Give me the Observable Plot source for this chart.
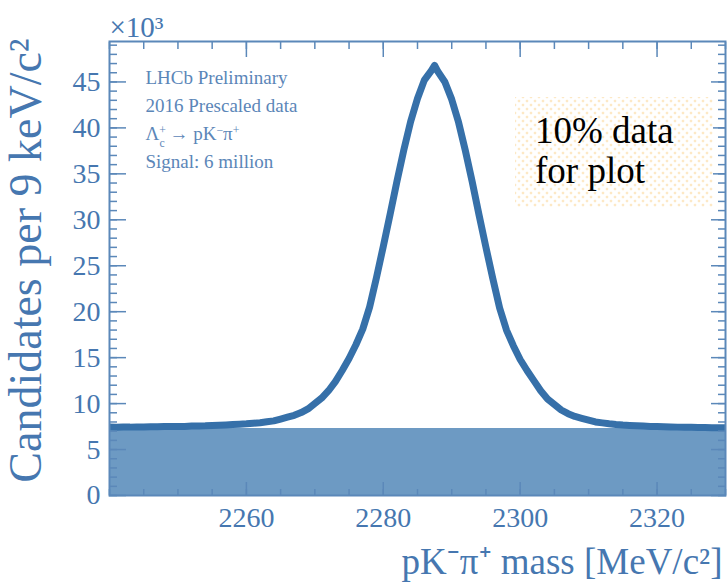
<!DOCTYPE html>
<html>
<head>
<meta charset="utf-8">
<script src="https://cdn.jsdelivr.net/npm/d3@7"></script>
<script src="https://cdn.jsdelivr.net/npm/@observablehq/plot@0.6"></script>
<style>
  html, body { margin: 0; padding: 0; background: #fff; }
  #wrap { position: relative; width: 727px; height: 585px; overflow: hidden; }
  #note {
    position: absolute; left: 515px; top: 97px; width: 198px; height: 110px;
    box-sizing: border-box; padding: 14px 0 0 20px;
    font-family: 'Liberation Serif', 'Times New Roman', serif; font-size: 37px; line-height: 40px; color: #000;
    background-color: #fff;
    background-image:
      radial-gradient(circle, rgba(251, 214, 150, 0.55) 1.1px, transparent 1.7px),
      radial-gradient(circle, rgba(251, 214, 150, 0.55) 1.1px, transparent 1.7px);
    background-size: 8px 8px, 8px 8px;
    background-position: 0 0, 4px 4px;
  }
</style>
</head>
<body>
<div id="wrap">
  <div id="chart"></div>
  <div id="note"></div>
</div>
<script>
// ---- data (counts in thousands per 9 keV/c^2 bin, read every 1 MeV) ----
const mass = [
  2240, 2241, 2242, 2243, 2244, 2245, 2246, 2247, 2248, 2249,
  2250, 2251, 2252, 2253, 2254, 2255, 2256, 2257, 2258, 2259,
  2260, 2261, 2262, 2263, 2264, 2265, 2266, 2267, 2268, 2269,
  2270, 2271, 2272, 2273, 2274, 2275, 2276, 2277, 2278, 2279,
  2280, 2281, 2282, 2283, 2284, 2285, 2286, 2287, 2287.5, 2288, 2289,
  2290, 2291, 2292, 2293, 2294, 2295, 2296, 2297, 2298, 2299,
  2300, 2301, 2302, 2303, 2304, 2305, 2306, 2307, 2308, 2309,
  2310, 2311, 2312, 2313, 2314, 2315, 2316, 2317, 2318, 2319,
  2320, 2321, 2322, 2323, 2324, 2325, 2326, 2327, 2328, 2329,
  2330
];
const counts = [
  7.45, 7.42, 7.45, 7.44, 7.46, 7.45, 7.48, 7.47, 7.50, 7.50,
  7.52, 7.52, 7.55, 7.57, 7.58, 7.62, 7.65, 7.68, 7.72, 7.76,
  7.80, 7.86, 7.92, 8.02, 8.12, 8.32, 8.52, 8.72, 9.02, 9.42,
  10.0, 10.6, 11.4, 12.4, 13.6, 14.9, 16.4, 18.1, 20.5, 23.7,
  27.1, 30.6, 34.2, 37.6, 40.7, 43.2, 45.2, 46.2, 46.8, 46.1, 45.0,
  43.1, 40.6, 37.5, 34.1, 30.5, 27.0, 23.6, 20.4, 18.0, 16.3,
  14.8, 13.6, 12.5, 11.4, 10.5, 9.9, 9.3, 8.9, 8.6, 8.4,
  8.2, 8.0, 7.9, 7.8, 7.72, 7.66, 7.62, 7.58, 7.55, 7.52,
  7.50, 7.48, 7.46, 7.44, 7.43, 7.42, 7.40, 7.40, 7.38, 7.38,
  7.37
];
// flat background component
const bgMass = [2240, 2330];
const bgCounts = [7.3, 7.3];

// ticks
const xMajor = [2260, 2280, 2300, 2320];
const xMinor = [2240, 2245, 2250, 2255, 2260, 2265, 2270, 2275, 2280, 2285, 2290, 2295, 2300, 2305, 2310, 2315, 2320, 2325, 2330];
const yMajor = [0, 5, 10, 15, 20, 25, 30, 35, 40, 45];
const yMinor = [0, 1, 2, 3, 4, 5, 6, 7, 8, 9, 10, 11, 12, 13, 14, 15, 16, 17, 18, 19, 20, 21, 22, 23, 24, 25, 26, 27, 28, 29, 30, 31, 32, 33, 34, 35, 36, 37, 38, 39, 40, 41, 42, 43, 44, 45, 46, 47, 48, 49];

// texts
const infoLines = ["LHCb Preliminary", "2016 Prescaled data", "Λc+ → pK−π+", "Signal: 6 million"];
const yLabel = "Candidates per 9 keV/c²";
const xLabel = "pK⁻π⁺ mass [MeV/c²]";
const scaleLabel = "×10³";
const noteLines = ["10% data", "for plot"];

// ---- build ----
const data = mass.map((m, i) => ({m, c: counts[i]}));
const bg = bgMass.map((m, i) => ({m, c: bgCounts[i]}));

const axisColor = "#5b88b9";
const textColor = "#4677b0";
const font = "'Liberation Serif', 'Times New Roman', serif";

const plot = Plot.plot({
  width: 727,
  height: 585,
  marginLeft: 109,
  marginTop: 41,
  marginRight: 2,
  marginBottom: 90,
  style: {fontFamily: font, background: "#fff"},
  x: {domain: [2240, 2330]},
  y: {domain: [0, 49.4]},
  marks: [
    Plot.areaY(bg, {x: "m", y: "c", fill: "#6d9ac3"}),
    Plot.lineY(data, {x: "m", y: "c", stroke: "#3670a9", strokeWidth: 7, strokeLinejoin: "round", strokeLinecap: "butt"}),
    Plot.frame({stroke: axisColor, strokeWidth: 2}),
    // inward ticks
    Plot.axisX(xMinor, {anchor: "bottom", tickSize: -6, fill: "none", stroke: axisColor, strokeWidth: 1.5}),
    Plot.axisX(xMajor, {anchor: "bottom", tickSize: -13, fill: "none", stroke: axisColor, strokeWidth: 1.5}),
    Plot.axisX(xMinor, {anchor: "top", tickSize: -7, fill: "none", stroke: axisColor, strokeWidth: 1.5}),
    Plot.axisX(xMajor, {anchor: "top", tickSize: -15, fill: "none", stroke: axisColor, strokeWidth: 1.5}),
    Plot.axisY(yMinor, {anchor: "left", tickSize: -8, fill: "none", stroke: axisColor, strokeWidth: 1.5}),
    Plot.axisY(yMajor, {anchor: "left", tickSize: -17, fill: "none", stroke: axisColor, strokeWidth: 1.5}),
    Plot.axisY(yMinor, {anchor: "right", tickSize: -8, fill: "none", stroke: axisColor, strokeWidth: 1.5}),
    Plot.axisY(yMajor, {anchor: "right", tickSize: -15, fill: "none", stroke: axisColor, strokeWidth: 1.5}),
    // tick labels
    Plot.axisX(xMajor, {anchor: "bottom", tickSize: 0, tickPadding: 12, tickFormat: (d) => String(d), fill: textColor, fontSize: 28, label: null}),
    Plot.axisY(yMajor, {anchor: "left", tickSize: 0, tickPadding: 9, tickFormat: (d) => String(d), fill: textColor, fontSize: 28, label: null}),
    // labels
    Plot.text([scaleLabel], {frameAnchor: "top-left", textAnchor: "start", lineAnchor: "bottom", dx: 0, dy: -5, fontSize: 29, fill: textColor}),
    Plot.text([infoLines.join("\n")], {frameAnchor: "top-left", textAnchor: "start", lineAnchor: "top", dx: 36, dy: 23, fontSize: 19, lineHeight: 1.47, fill: "#5b86b8"}),
    Plot.text([yLabel], {frameAnchor: "left", rotate: -90, textAnchor: "middle", lineAnchor: "bottom", dx: -69, dy: -8, fontSize: 46, fill: textColor}),
    Plot.text([xLabel], {frameAnchor: "bottom-right", textAnchor: "end", lineAnchor: "bottom", dx: -3, dy: 78, fontSize: 37, fill: textColor})
  ]
});

document.getElementById("chart").append(plot);

// decay label: Λ with stacked +/c, and superscript charges
d3.select(plot).selectAll("tspan").filter(function() { return this.textContent === infoLines[2]; }).each(function() {
  const t = d3.select(this).text(null);
  t.append("tspan").text("Λ");
  t.append("tspan").attr("font-size", "0.62em").attr("baseline-shift", "super").text("+");
  t.append("tspan").attr("font-size", "0.62em").attr("baseline-shift", "sub").attr("dx", "-0.55em").text("c");
  t.append("tspan").text(" → pK");
  t.append("tspan").attr("font-size", "0.62em").attr("baseline-shift", "super").text("−");
  t.append("tspan").text("π");
  t.append("tspan").attr("font-size", "0.62em").attr("baseline-shift", "super").text("+");
});

document.getElementById("note").innerHTML = noteLines.join("<br>");
</script>
</body>
</html>
